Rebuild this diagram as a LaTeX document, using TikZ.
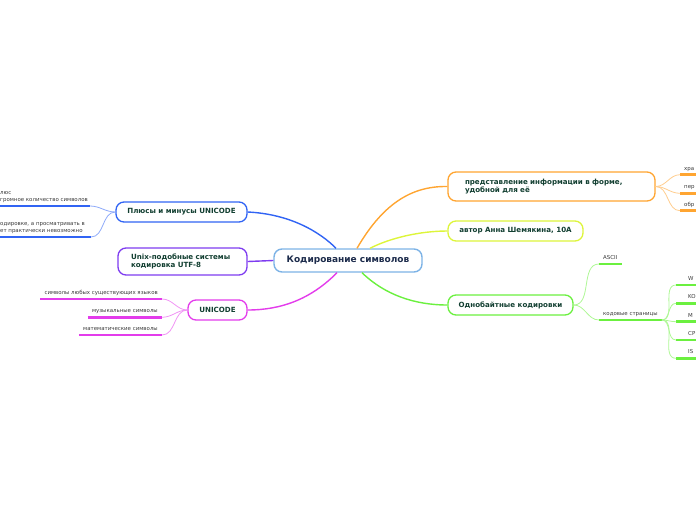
\documentclass[tikz,border=0pt]{standalone}
\usepackage{fontspec}
\setmainfont{DejaVu Sans}
\usepackage{xcolor}
\usepackage{tikz}
\usetikzlibrary{calc}
\definecolor{rootLine}{HTML}{7DB3E6}
\definecolor{rootText}{HTML}{1C2B4B}
\definecolor{nodeText}{HTML}{123F31}
\definecolor{leafText}{HTML}{3A3A3A}
\definecolor{plusBlue}{HTML}{3164F4}
\definecolor{unixViolet}{HTML}{7E3CF0}
\definecolor{uniPink}{HTML}{E33CEB}
\definecolor{reprOrange}{HTML}{FFA531}
\definecolor{authLime}{HTML}{DDF53A}
\definecolor{byteGreen}{HTML}{6BF03F}
\tikzset{
  rootbox/.style={rectangle, rounded corners=8pt, draw=rootLine, fill=white, line width=1.4pt, font=\fontsize{9}{11}\selectfont\bfseries, text=rootText, minimum width=148pt, minimum height=23pt, inner sep=2pt},
  branchbox/.style={rectangle, rounded corners=8pt, draw=#1, fill=white, line width=1.3pt, font=\fontsize{7.1}{8.8}\selectfont\bfseries, text=nodeText, minimum height=20pt, inner sep=2pt},
  stem/.style={draw=#1, line width=1.4pt},
  % --- leaves ---
  leaf/.style={font=\fontsize{5.45}{7}\selectfont, text=leafText, inner xsep=4pt, inner ysep=3pt, text depth=1.2pt},
  leafline/.style={draw=#1, line width=2.6pt},
  twig/.style={draw=#1!55, line width=0.8pt},
}
\begin{document}
\begin{tikzpicture}[x=1pt,y=-1pt]
      \useasboundingbox (0,0) rectangle (696,520);
      \clip (0,0) rectangle (696,520);

      \node[rootbox] (root) at (348,260.5) {Кодирование символов};
      \node[branchbox=plusBlue, minimum width=131pt] (plus) at (181.5,212) {Плюсы и минусы UNICODE};
      \node[branchbox=unixViolet, text width=103pt, inner xsep=13pt, align=left, minimum height=27pt] (unix) at (182.5,261.5) {Unix-подобные системы\\кодировка UTF-8};
      \node[branchbox=uniPink, minimum width=59pt] (uni) at (217.5,310) {UNICODE};
      \node[branchbox=reprOrange, text width=173pt, inner xsep=17pt, align=left, minimum height=29pt] (repr) at (551.5,186.5) {представление информации в форме,\\удобной для её};
      \node[branchbox=authLime, minimum width=135pt] (auth) at (515.5,231) {автор Анна Шемякина, 10А};
      \node[branchbox=byteGreen, minimum width=125pt] (byte) at (510.5,305) {Однобайтные кодировки};

      \draw[stem=plusBlue] (plus.east) .. controls (290,214) and (320,232) .. ([xshift=-12pt]root.north);
      \draw[stem=unixViolet] (root.west) -- (unix.east);
      \draw[stem=uniPink] ([xshift=-11pt]root.south) .. controls (310,300) and (280,310) .. (uni.east);
      \draw[stem=reprOrange] ([xshift=9pt]root.north) .. controls (385,200) and (415,186) .. (repr.west);
      \draw[stem=authLime] ([xshift=22pt]root.north) .. controls (390,238) and (420,231) .. (auth.west);
      \draw[stem=byteGreen] ([xshift=14pt]root.south) .. controls (385,295) and (415,305) .. (byte.west);

      % plus / minus
      \coordinate (plusAend) at (90,206);
      \coordinate (plusBend) at (91,237);
      \node[leaf, anchor=south west, align=left] (plusA) at (-4,206) {люс\\громное количество символов};
      \node[leaf, anchor=south west, align=left] (plusB) at (-4,237) {одировке, а просматривать в\\ет практически невозможно};
      \draw[leafline=plusBlue] (plusA.south west) -- (plusAend);
      \draw[leafline=plusBlue] (plusB.south west) -- (plusBend);
      \draw[twig=plusBlue] (plus.west) to[out=180,in=0] (plusAend);
      \draw[twig=plusBlue] (plus.west) to[out=180,in=0] (plusBend);

      % unicode
      \foreach \n/\y/\t in {A/299/символы любых существующих языков, B/317.3/музыкальные символы, C/335/математические символы} {
        \node[leaf, anchor=south east] (uni\n) at (162,\y) {\t};
        \draw[leafline=uniPink] (uni\n.south west) -- (uni\n.south east);
        \draw[twig=uniPink] (uni.west) to[out=180,in=0] (uni\n.south east);
      }

      % representation
      \foreach \n/\y/\t in {A/174.7/хра, B/193.3/пер, C/210.7/обр} {
        \node[leaf, anchor=south west] (repr\n) at (680,\y) {\t};
        \draw[leafline=reprOrange] (repr\n.south west) -- ++(20,0);
        \draw[twig=reprOrange] (repr.east) to[out=0,in=180] (repr\n.south west);
      }

      % single byte
      \node[leaf, anchor=south west] (ascii) at (599,264) {ASCII};
      \node[leaf, anchor=south west] (pages) at (599,320) {кодовые страницы};
      \draw[leafline=byteGreen] (ascii.south west) -- (ascii.south east);
      \draw[leafline=byteGreen] (pages.south west) -- (pages.south east);
      \draw[twig=byteGreen] (byte.east) to[out=0,in=180] (ascii.south west);
      \draw[twig=byteGreen] (byte.east) to[out=0,in=180] (pages.south west);
      \foreach \n/\y/\t in {A/285/W, B/303.3/KO, C/321.7/M, D/340/CP, E/358.3/IS} {
        \node[leaf, inner xsep=12pt, anchor=south west] (page\n) at (676,\y) {\t};
        \draw[leafline=byteGreen] (page\n.south west) -- ++(25,0);
        \draw[twig=byteGreen] (pages.south east) to[out=0,in=180] (page\n.south west);
      }
\end{tikzpicture}
\end{document}
